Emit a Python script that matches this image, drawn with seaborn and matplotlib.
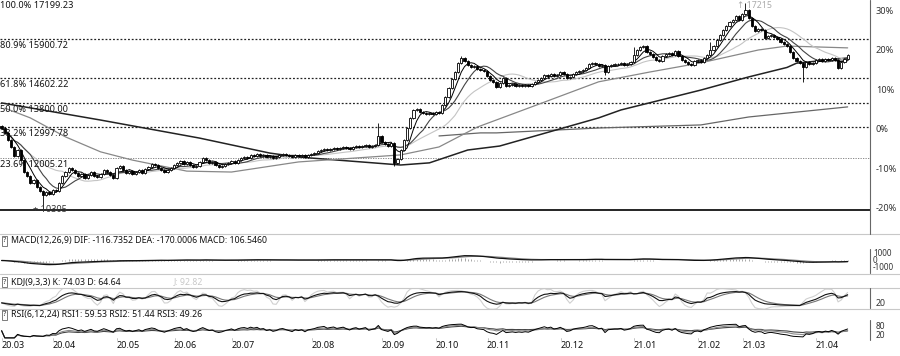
import numpy as np
import pandas as pd
import matplotlib
matplotlib.use("Agg")
import matplotlib.pyplot as plt
import matplotlib.transforms as mtransforms
from matplotlib.lines import Line2D
import seaborn as sns

sns.set_theme(style="white")
plt.rcParams["font.family"] = ["Noto Sans", "DejaVu Sans"]

# daily closes, 2020.03 -> 2021.04
close = [
    12980, 12820, 12590, 12360, 12060, 12260, 11930, 11540, 11410, 11180,
    11280, 11050, 10920, 10790, 10890, 10820, 10950, 10920, 11180, 11410,
    11540, 11670, 11610, 11510, 11410, 11480, 11350, 11440, 11540, 11410,
    11380, 11480, 11610, 11540, 11440, 11350, 11670, 11740, 11610, 11510,
    11570, 11480, 11540, 11610, 11510, 11640, 11710, 11800, 11770, 11670,
    11610, 11540, 11610, 11670, 11770, 11840, 11900, 11800, 11870, 11770,
    11710, 11740, 11870, 12000, 11930, 11840, 11870, 11770, 11710, 11740,
    11800, 11840, 11900, 11840, 11930, 12000, 12030, 12000, 12100, 12070,
    12130, 12070, 12100, 12030, 12070, 12000, 12030, 12100, 12130, 12100,
    12070, 12030, 12100, 12070, 12100, 12030, 12100, 12130, 12160, 12230,
    12260, 12300, 12260, 12300, 12330, 12300, 12330, 12360, 12330, 12300,
    12360, 12390, 12360, 12390, 12420, 12360, 12390, 12420, 12720, 12520,
    12460, 12390, 12490, 11840, 11970, 12260, 12590, 12980, 13310, 13570,
    13600, 13500, 13470, 13440, 13470, 13440, 13500, 13470, 13730, 13990,
    14290, 14580, 14810, 15110, 15270, 15170, 15040, 14980, 15010, 14910,
    14880, 14850, 14680, 14550, 14490, 14320, 14450, 14620, 14360, 14390,
    14420, 14360, 14390, 14360, 14390, 14360, 14420, 14490, 14550, 14620,
    14720, 14680, 14750, 14680, 14720, 14810, 14750, 14620, 14650, 14750,
    14810, 14850, 14880, 14940, 15070, 15110, 15070, 15010, 15040, 14810,
    15010, 15040, 15070, 15070, 15110, 15040, 15070, 15140, 15370, 15530,
    15630, 15660, 15460, 15400, 15300, 15200, 15170, 15330, 15400, 15430,
    15370, 15500, 15330, 15200, 15140, 15070, 15040, 15170, 15200, 15140,
    15270, 15370, 15530, 15660, 15860, 16020, 16190, 16320, 16450, 16510,
    16640, 16510, 16710, 16840, 16580, 16320, 16150, 16220, 16190, 15920,
    15990, 16020, 15960, 15890, 15790, 15730, 15660, 15470, 15270, 15170,
    15110, 14980, 15140, 15070, 15110, 15200, 15240, 15170, 15240, 15200,
    15270, 15200, 14940, 15140, 15240, 15370,
]
first_open = 13050
high_marks = {118: 13140, 144: 15330, 198: 15630, 222: 15790, 233: 17080}
low_marks = {13: 10305, 123: 11740, 189: 14700, 251: 14480}

# longer moving averages, read as (day, value) points
ma60_x = [1, 9, 20, 31, 41, 58, 72, 93, 125, 137, 149, 166, 187, 203, 219, 237, 246, 265]
ma60_y = [13630, 13310, 12690, 12200, 11930, 11570, 11540, 11870, 12100, 12360,
          13010, 13670, 14490, 14810, 15110, 15530, 15660, 15600]
ma120_x = [0, 31, 62, 84, 93, 125, 134, 146, 156, 187, 194, 219, 234, 246, 249, 265]
ma120_y = [13800, 13240, 12650, 12160, 12030, 11770, 11840, 12260, 12390, 13310,
           13570, 14220, 14650, 14960, 15100, 15270]
ma250_x = [137, 150, 155, 187, 219, 234, 265]
ma250_y = [12720, 12820, 12820, 12980, 13080, 13340, 13670]

month_pos = [0, 16, 36, 54, 72, 97, 119, 136, 152, 175, 198, 218, 232, 255]
month_lab = ["20.03", "20.04", "20.05", "20.06", "20.07", "20.08", "20.09",
             "20.10", "20.11", "20.12", "21.01", "21.02", "21.03", "21.04"]

fib_names = ["100.0%", "80.9%", "61.8%", "50.0%", "38.2%", "23.6%"]
fib_levels = [17199.23, 15900.72, 14602.22, 13800.00, 12997.78, 12005.21]
fib_low = 10305

base = 12915
pct_ticks = [30, 20, 10, 0, -10, -20]

# ---- derived series (candles + indicators) ----
df = pd.DataFrame({"close": close})
df["day"] = np.arange(len(df))
df["open"] = df["close"].shift(1).fillna(first_open)
df["high"] = df[["open", "close"]].max(axis=1) + 25
df["low"] = df[["open", "close"]].min(axis=1) - 25
for k, v in high_marks.items():
    df.loc[k, "high"] = v
for k, v in low_marks.items():
    df.loc[k, "low"] = v
for n in (5, 10, 20):
    df[f"ma{n}"] = df["close"].rolling(n, min_periods=1).mean()

ema12 = df["close"].ewm(span=12, adjust=False).mean()
ema26 = df["close"].ewm(span=26, adjust=False).mean()
df["dif"] = ema12 - ema26
df["dea"] = df["dif"].ewm(span=9, adjust=False).mean()
df["macd"] = 2 * (df["dif"] - df["dea"])

llv = df["low"].rolling(9, min_periods=1).min()
hhv = df["high"].rolling(9, min_periods=1).max()
rsv = (df["close"] - llv) / (hhv - llv) * 100
df["k"] = rsv.ewm(alpha=1 / 3, adjust=False).mean()
df["d"] = df["k"].ewm(alpha=1 / 3, adjust=False).mean()
df["j"] = 3 * df["k"] - 2 * df["d"]

chg = df["close"].diff().fillna(0)
for n, name in ((6, "rsi1"), (12, "rsi2"), (24, "rsi3")):
    up = chg.clip(lower=0).ewm(alpha=1 / n, adjust=False).mean()
    dn = (-chg).clip(lower=0).ewm(alpha=1 / n, adjust=False).mean()
    df[name] = (100 * up / (up + dn)).fillna(50)

# ---- figure ----
W, H = 900, 356
fig = plt.figure(figsize=(9, 3.56), dpi=100)
fig.patch.set_facecolor("white")


def box(x0, y0, x1, y1):
    a = fig.add_axes([x0 / W, 1 - y1 / H, (x1 - x0) / W, (y1 - y0) / H])
    a.set_facecolor("none")
    for s in a.spines.values():
        s.set_visible(False)
    a.set_xticks([])
    a.set_yticks([])
    a.set_xlim(-0.5, 272)
    return a


def hline(y, x0=0, x1=900, **kw):
    fig.add_artist(Line2D([x0 / W, x1 / W], [1 - y / H] * 2, transform=fig.transFigure, **kw))


def vline(x, y0, y1, **kw):
    fig.add_artist(Line2D([x / W] * 2, [1 - y0 / H, 1 - y1 / H], transform=fig.transFigure, **kw))


ax = box(0, 0, 870, 209.8)
ax.set_ylim(fib_low, base * (1 + 130 / 395))

# fibonacci levels
for name, lev in zip(fib_names, fib_levels):
    light = name == "23.6%"
    ax.hlines(lev, -0.5, 272, colors="#777" if light else "#222",
              linestyles=(0, (1.5, 1.5)), lw=0.6 if light else 0.9, zorder=1)
    ax.annotate(f"{name} {lev:.2f}", xy=(0, lev), xycoords=ax.get_yaxis_transform(),
                xytext=(0, -6.5), textcoords="offset pixels", va="center", ha="left",
                fontsize=6.6, color="#111", zorder=6, annotation_clip=False)
ax.hlines(fib_low, -0.5, 272, colors="black", lw=1.2, zorder=1, clip_on=False)

# moving averages
sns.lineplot(x=ma250_x, y=ma250_y, ax=ax, color="#666", lw=0.9, zorder=2)
sns.lineplot(x=ma120_x, y=ma120_y, ax=ax, color="#222", lw=1.1, zorder=2)
sns.lineplot(x=ma60_x, y=ma60_y, ax=ax, color="#888", lw=0.9, zorder=2)
sns.lineplot(data=df, x="day", y="ma20", ax=ax, color="#c4c4c4", lw=0.8, zorder=2)
sns.lineplot(data=df, x="day", y="ma10", ax=ax, color="#444", lw=0.8, zorder=2)
sns.lineplot(data=df, x="day", y="ma5", ax=ax, color="#000", lw=0.7, zorder=2)

# candles
rising = df["close"] >= df["open"]
body = (df["close"] - df["open"]).abs().clip(lower=15)
ax.vlines(df["day"], df["low"], df["high"], color="black", lw=0.6, zorder=3)
ax.bar(df["day"][rising], body[rising], bottom=df["open"][rising], width=0.7,
       color="white", edgecolor="black", linewidth=0.6, zorder=4)
ax.bar(df["day"][~rising], body[~rising], bottom=df["close"][~rising], width=0.7,
       color="black", edgecolor="black", linewidth=0.6, zorder=4)
ax.set_xlim(-0.5, 272)

lo_day = int(df["low"].idxmin())
ax.annotate(f"+ {fib_low}", xy=(lo_day, fib_low), xytext=(-10, 0.5),
            textcoords="offset pixels", fontsize=6.6, color="#333", va="center",
            ha="left", annotation_clip=False, zorder=6)
fig.text(737 / W, 1 - 5 / H, "\u2191 17215", fontsize=6.3, color="#aaa", va="center")

# percent axis
ytr = ax.get_yaxis_transform()
for p in pct_ticks:
    ax.text(1 + 6 / 870, base * (1 + p / 100), f"{p}%", transform=ytr,
            fontsize=6.6, color="#333", va="center", ha="left")

# separators and right edge
for yy in (234, 274, 288, 309):
    hline(yy, color="#c8c8c8", lw=0.8)
vline(870, 0, 234, color="#666", lw=0.8)
vline(870, 249, 273, color="#666", lw=0.8)
vline(870, 288, 308, color="#666", lw=0.8)
vline(870, 320, 340, color="#666", lw=0.8)

# MACD
axm = box(0, 248, 870, 273)
axm.set_ylim(-1667, 1667)
axm.vlines(df["day"], 0, df["macd"], color="#999", lw=0.6)
sns.lineplot(data=df, x="day", y="dea", ax=axm, color="#888", lw=0.9)
sns.lineplot(data=df, x="day", y="dif", ax=axm, color="#111", lw=0.9)
for v, lab in ((1000, "1000"), (0, "0"), (-1000, "-1000")):
    axm.text(1 + 3 / 870, v, lab, transform=axm.get_yaxis_transform(),
             fontsize=5.8, color="#333", va="center", ha="left")

# KDJ
axk = box(0, 288, 870, 309)
axk.set_ylim(-20, 120)
sns.lineplot(data=df, x="day", y="j", ax=axk, color="#d0d0d0", lw=0.8)
sns.lineplot(data=df, x="day", y="d", ax=axk, color="#777", lw=0.8)
sns.lineplot(data=df, x="day", y="k", ax=axk, color="#111", lw=0.8)
axk.text(1 + 6 / 870, 20, "20", transform=axk.get_yaxis_transform(),
         fontsize=6.4, color="#333", va="center", ha="left")

# RSI
axr = box(0, 320, 870, 340)
axr.set_ylim(-15, 125)
sns.lineplot(data=df, x="day", y="rsi3", ax=axr, color="#444", lw=0.8)
sns.lineplot(data=df, x="day", y="rsi2", ax=axr, color="#888", lw=0.8)
sns.lineplot(data=df, x="day", y="rsi1", ax=axr, color="#000", lw=0.7)
for v in (80, 20):
    axr.text(1 + 6 / 870, v, str(v), transform=axr.get_yaxis_transform(),
             fontsize=6.0, color="#333", va="center", ha="left")

for a in (ax, axm, axk, axr):
    a.set_xlabel("")
    a.set_ylabel("")

# panel titles
titles = [
    (241, "MACD(12,26,9) DIF: -116.7352 DEA: -170.0006 MACD: 106.5460"),
    (282, "KDJ(9,3,3) K: 74.03 D: 64.64"),
    (315, "RSI(6,12,24) RSI1: 59.53 RSI2: 51.44 RSI3: 49.26"),
]
for yy, t in titles:
    fig.text(4.5 / W, 1 - yy / H, "?", fontsize=5.5, color="#333", va="center", ha="center",
             bbox=dict(boxstyle="square,pad=0.15", fc="white", ec="#666", lw=0.6))
    fig.text(11 / W, 1 - yy / H, t, fontsize=6.3, color="#111", va="center", ha="left")
fig.text(174 / W, 1 - 282 / H, "J: 92.82", fontsize=6.3, color="#c8c8c8", va="center")

# month labels
xtr = mtransforms.blended_transform_factory(axr.transData, fig.transFigure)
for pos, lab in zip(month_pos, month_lab):
    x0 = pos if pos > 0 else 0.1
    axr.text(x0, 1 - 345.5 / H, lab, transform=xtr, fontsize=6.5, color="#111",
             va="center", ha="left")
    axr.plot([pos + 0.2, pos + 0.2], [1 - 337.5 / H, 1 - 340 / H], transform=xtr,
             color="#bbb", lw=0.6, clip_on=False)

fig.savefig("out.png", dpi=100, facecolor="white")
